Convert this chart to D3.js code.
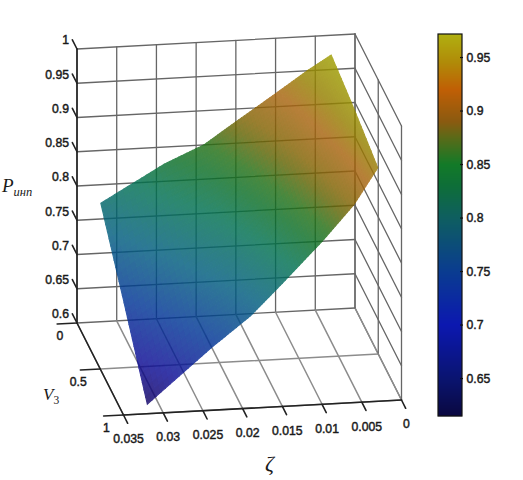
<!DOCTYPE html>
<html>
<head>
<meta charset="utf-8">
<script src="https://cdn.jsdelivr.net/npm/d3@7"></script>
<style>
  html, body { margin: 0; background: #fff; }
  svg { display: block; }
  text { font-family: "Liberation Sans", Arial, sans-serif; font-size: 12.2px; fill: #1a1a1a; stroke: #1a1a1a; stroke-width: 0.45px; }
  .math { font-family: "Liberation Serif", serif; font-style: italic; stroke-width: 0; }
</style>
</head>
<body>
<svg id="chart" width="523" height="480"></svg>
<script>
const ZETA_TICKS = [0.035, 0.03, 0.025, 0.02, 0.015, 0.01, 0.005, 0];
const V_TICKS = [0, 0.5, 1];
const P_TICKS = [0.6, 0.65, 0.7, 0.75, 0.8, 0.85, 0.9, 0.95, 1];
const BAR_TICKS = [0.65, 0.7, 0.75, 0.8, 0.85, 0.9, 0.95];

// surface samples
const ZETA_VALUES = [0.032, 0.024, 0.019, 0.015, 0.01, 0.006, 0.003];
const V_VALUES = [0, 0.5, 1];
const P_AT_V0 = [0.773, 0.825, 0.85, 0.881, 0.919, 0.95, 0.971];
const P_AT_V05 = [0.695, 0.76, 0.793, 0.83, 0.88, 0.925, 0.958];
const P_AT_V1 = [0.614, 0.691, 0.735, 0.78, 0.838, 0.889, 0.941];
const P_ROWS = [P_AT_V0, P_AT_V05, P_AT_V1];

const COLOR_DOMAIN = [0.615, 0.65, 0.7, 0.75, 0.8, 0.83, 0.85, 0.875, 0.89, 0.92, 0.945, 0.972];
const BAR_COLORS = ["#0a0840", "#0a1470", "#0c18b0", "#0a3c90", "#0e5e60", "#0e6e38", "#127a28",
  "#5a6a18", "#8a5a10", "#c05f05", "#b08a08", "#b0b010"];
// colours as they look on the page, after the see-through of the surface
const SURFACE_COLORS = ["#3a2a80", "#3838a8", "#2a5aa8", "#257a95", "#2a8a70", "#37894f", "#4a8a40",
  "#808030", "#9a7f30", "#b8803a", "#a8982a", "#b0b020"];
const SURFACE_OPACITY = 0.82;

const BAR_MIN = 0.615;
const BAR_MAX = 0.972;

const SVG_SELECTION = d3.select("#chart");

// colour to paint so that it shows as c over a white page
function underOpacity(c) {
  const rgb = d3.rgb(c);
  const back = v => Math.max(0, (v - 255 * (1 - SURFACE_OPACITY)) / SURFACE_OPACITY);
  return d3.rgb(back(rgb.r), back(rgb.g), back(rgb.b)).formatHex();
}

const barColor = d3.scaleLinear().domain(COLOR_DOMAIN).range(BAR_COLORS).interpolate(d3.interpolateRgb);
const surfaceColor = d3.scaleLinear().domain(COLOR_DOMAIN).range(SURFACE_COLORS.map(underOpacity)).interpolate(d3.interpolateRgb);

// oblique 3d projection of the matlab box
const zetaX = d3.scaleLinear().domain([0.035, 0]).range([77, 355]);
const zetaY = d3.scaleLinear().domain([0.035, 0]).range([0, -15]);
const vX = d3.scaleLinear().domain([0, 1]).range([0, 46.5]);
const vY = d3.scaleLinear().domain([0, 1]).range([0, 92]);
const pY = d3.scaleLinear().domain([0.6, 1]).range([323, 49]);

function project(zeta, v, p) {
  return [zetaX(zeta) + vX(v), pY(p) + zetaY(zeta) + vY(v)];
}

function line3d(parent, a, b, cls) {
  const p0 = project(a[0], a[1], a[2]);
  const p1 = project(b[0], b[1], b[2]);
  const line = parent.append("line")
    .attr("x1", p0[0]).attr("y1", p0[1])
    .attr("x2", p1[0]).attr("y2", p1[1])
    .attr("stroke-linecap", "round");
  if (cls === "axis") line.attr("stroke", "#222").attr("stroke-width", 1.6);
  else if (cls === "floor") line.attr("stroke", "#8c8c8c").attr("stroke-width", 1.5);
  else line.attr("stroke", "#666").attr("stroke-width", 1.3);
}

// GRID
const GRID = SVG_SELECTION.append("g");
P_TICKS.forEach(p => {
  line3d(GRID, [0.035, 0, p], [0, 0, p]);
  line3d(GRID, [0, 0, p], [0, 1, p]);
});
ZETA_TICKS.forEach(z => {
  line3d(GRID, [z, 0, 0.6], [z, 0, 1]);
  line3d(GRID, [z, 0, 0.6], [z, 1, 0.6], "floor");
});
V_TICKS.forEach(v => {
  line3d(GRID, [0, v, 0.6], [0, v, 1]);
  if (v > 0) line3d(GRID, [0.035, v, 0.6], [0, v, 0.6], "floor");
});

// SURFACE (each cell is cut in small quads for the interpolated shading)
const SUB = 14;
const SURFACE = SVG_SELECTION.append("g").attr("opacity", SURFACE_OPACITY);
function surfaceAt(i, j, s, t) {
  const top = P_ROWS[j][i] + (P_ROWS[j][i + 1] - P_ROWS[j][i]) * s;
  const bottom = P_ROWS[j + 1][i] + (P_ROWS[j + 1][i + 1] - P_ROWS[j + 1][i]) * s;
  const zeta = ZETA_VALUES[i] + (ZETA_VALUES[i + 1] - ZETA_VALUES[i]) * s;
  const v = V_VALUES[j] + (V_VALUES[j + 1] - V_VALUES[j]) * t;
  return {zeta: zeta, v: v, p: top + (bottom - top) * t};
}
const quads = [];
for (let j = 0; j < V_VALUES.length - 1; j++) {
  for (let i = 0; i < ZETA_VALUES.length - 1; i++) {
    for (let a = 0; a < SUB; a++) {
      for (let b = 0; b < SUB; b++) {
        const corners = [
          surfaceAt(i, j, a / SUB, b / SUB),
          surfaceAt(i, j, (a + 1) / SUB, b / SUB),
          surfaceAt(i, j, (a + 1) / SUB, (b + 1) / SUB),
          surfaceAt(i, j, a / SUB, (b + 1) / SUB)
        ];
        quads.push(corners);
      }
    }
  }
}
SURFACE.selectAll("polygon")
  .data(quads)
  .enter()
  .append("polygon")
  .attr("points", d => d.map(c => project(c.zeta, c.v, c.p).join(",")).join(" "))
  .attr("fill", d => surfaceColor(d3.mean(d, c => c.p)))
  .attr("stroke", d => surfaceColor(d3.mean(d, c => c.p)))
  .attr("stroke-width", 1.1);

// AXES
const AXES = SVG_SELECTION.append("g");
line3d(AXES, [0.035, 0, 0.6], [0.035, 0, 1], "axis");
line3d(AXES, [0.035, 0, 0.6], [0.035, 1, 0.6], "axis");
line3d(AXES, [0.035, 1, 0.6], [0, 1, 0.6], "axis");

P_TICKS.forEach(p => {
  line3d(AXES, [0.035, 0, p], [0.035, -0.1, p], "axis");
  const pos = project(0.035, 0, p);
  AXES.append("text")
    .attr("x", pos[0] - 8).attr("y", pos[1] - 9)
    .attr("dy", "0.36em")
    .attr("text-anchor", "end")
    .text(p);
});
V_TICKS.forEach(v => {
  line3d(AXES, [0.035, v, 0.6], [0.0375, v, 0.6], "axis");
  const pos = project(0.035, v, 0.6);
  AXES.append("text")
    .attr("x", pos[0] - (v === 0.5 ? 22 : 17)).attr("y", pos[1] + 12.5)
    .attr("dy", "0.36em")
    .attr("text-anchor", "middle")
    .text(v);
});
ZETA_TICKS.forEach(z => {
  line3d(AXES, [z, 1, 0.6], [z, 1.09, 0.6], "axis");
  const pos = project(z, 1, 0.6);
  AXES.append("text")
    .attr("x", pos[0] + 5).attr("y", pos[1] + 24)
    .attr("dy", "0.36em")
    .attr("text-anchor", "middle")
    .text(z);
});

// AXIS TITLES
const P_TITLE = SVG_SELECTION.append("text").attr("class", "math").attr("x", 2).attr("y", 192).style("font-size", "19px");
P_TITLE.append("tspan").text("P");
P_TITLE.append("tspan").attr("dy", 4).style("font-size", "12.5px").text("инп");
const V_TITLE = SVG_SELECTION.append("text").attr("class", "math").attr("x", 43).attr("y", 400).style("font-size", "17px");
V_TITLE.append("tspan").text("V");
V_TITLE.append("tspan").attr("dy", 4).style("font-size", "11.5px").style("font-style", "normal").text("3");
SVG_SELECTION.append("text").attr("class", "math").attr("x", 265).attr("y", 471).style("font-size", "22px").text("ζ");

// COLORBAR
const BAR_Y = d3.scaleLinear().domain([BAR_MIN, BAR_MAX]).range([416, 34]);
const BAR_SELECTION = SVG_SELECTION.append("g");
BAR_SELECTION.selectAll("rect")
  .data(d3.range(34, 416))
  .enter()
  .append("rect")
  .attr("x", 438).attr("y", d => d)
  .attr("width", 24).attr("height", 1.2)
  .attr("fill", d => barColor(BAR_Y.invert(d + 0.5)));
BAR_SELECTION.append("rect")
  .attr("x", 438).attr("y", 34)
  .attr("width", 24).attr("height", 382)
  .attr("fill", "none")
  .attr("stroke", "#111").attr("stroke-width", 1.2);
BAR_TICKS.forEach(t => {
  BAR_SELECTION.append("line")
    .attr("x1", 460).attr("x2", 463)
    .attr("y1", BAR_Y(t)).attr("y2", BAR_Y(t))
    .attr("stroke", "#111").attr("stroke-width", 1.2);
  BAR_SELECTION.append("text")
    .attr("x", 466.5).attr("y", BAR_Y(t))
    .attr("dy", "0.36em")
    .text(t);
});
</script>
</body>
</html>
